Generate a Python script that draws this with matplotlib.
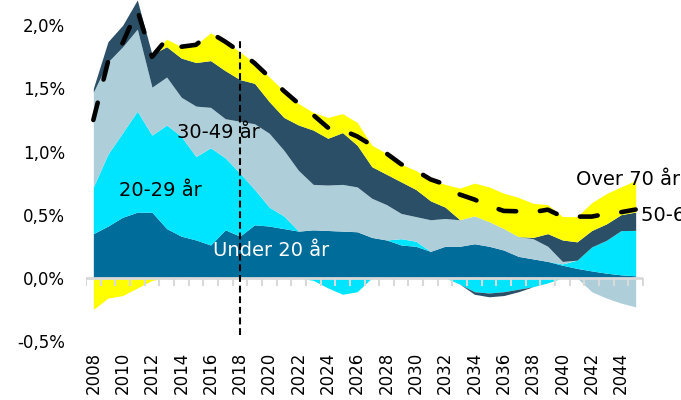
import numpy as np
import matplotlib
matplotlib.use("Agg")
import matplotlib.pyplot as plt

# contribution to growth (percentage points), 2008-2045
years = np.arange(2008, 2046)
under20 = [0.35, 0.41, 0.48, 0.52, 0.52, 0.39, 0.33, 0.30, 0.26, 0.38,
           0.33, 0.42, 0.41, 0.39, 0.37, 0.38, 0.375, 0.37, 0.365, 0.32,
           0.30, 0.26, 0.25, 0.21, 0.25, 0.25, 0.27, 0.25, 0.22, 0.17,
           0.15, 0.13, 0.10, 0.075, 0.055, 0.037, 0.024, 0.016]
age20_29 = [0.37, 0.57, 0.67, 0.80, 0.61, 0.82, 0.79, 0.66, 0.77, 0.57,
            0.50, 0.28, 0.15, 0.10, 0.0, -0.02, -0.08, -0.13, -0.11, 0.0,
            0.0, 0.05, 0.04, 0.0, 0.0, -0.05, -0.11, -0.12, -0.11, -0.09,
            -0.07, -0.04, 0.01, 0.065, 0.19, 0.26, 0.35, 0.36]
age30_49 = [0.75, 0.73, 0.68, 0.65, 0.38, 0.38, 0.31, 0.40, 0.32, 0.31,
            0.41, 0.52, 0.585, 0.52, 0.48, 0.36, 0.36, 0.37, 0.355, 0.31,
            0.28, 0.20, 0.195, 0.25, 0.22, 0.21, 0.22, 0.195, 0.17, 0.157,
            0.16, 0.12, 0.02, 0.0, -0.11, -0.16, -0.20, -0.23]
age50_69 = [0.03, 0.16, 0.17, 0.23, 0.26, 0.24, 0.31, 0.345, 0.37, 0.38,
            0.33, 0.32, 0.25, 0.26, 0.36, 0.43, 0.37, 0.41, 0.33, 0.25,
            0.24, 0.25, 0.215, 0.15, 0.09, 0.0, -0.02, -0.03, -0.03, -0.02,
            0.01, 0.10, 0.17, 0.145, 0.13, 0.13, 0.126, 0.145]
over70 = [-0.25, -0.16, -0.14, -0.08, -0.02, 0.06, 0.09, 0.14, 0.22, 0.23,
          0.22, 0.16, 0.195, 0.21, 0.17, 0.14, 0.165, 0.15, 0.18, 0.17,
          0.165, 0.14, 0.15, 0.17, 0.18, 0.25, 0.26, 0.275, 0.28, 0.31,
          0.27, 0.23, 0.185, 0.20, 0.22, 0.24, 0.22, 0.25]

series = [under20, age20_29, age30_49, age50_69, over70]
colors = ['#006C9A', '#00E5FF', '#AECFDA', '#2B4F66', '#FFFF00']
forecast_year = 2018

fig = plt.figure(figsize=(6.81, 4.0), dpi=100)
ax = fig.add_axes([86/681, 59/400, 557/681, 341/400])

pos_base = np.zeros(len(years))
neg_base = np.zeros(len(years))
for vals, col in zip(series, colors):
    v = np.array(vals)
    p = np.clip(v, 0, None)
    n = np.clip(v, None, 0)
    ax.fill_between(years, pos_base, pos_base + p, color=col, lw=0, zorder=2)
    ax.fill_between(years, neg_base, neg_base + n, color=col, lw=0, zorder=2)
    pos_base = pos_base + p
    neg_base = neg_base + n

total = np.sum(np.array(series), axis=0)

# zero line with small ticks between the years
ax.axhline(0, color='#D9D9D9', lw=2, zorder=3)
ax.plot(np.arange(2007.5, 2046, 1), np.zeros(39), ls='none', marker=3,
        ms=6, mew=1.5, color='#D9D9D9', zorder=3)

ax.vlines(forecast_year, -0.45, 1.9, colors='black', lw=1.5,
          linestyles=(0, (3.3, 1.8)), zorder=4)

ax.plot(years, total, color='black', lw=3.3, dashes=(3.9, 5.2),
        dash_capstyle='round', solid_capstyle='round', zorder=5)

ax.text(2016.5, 1.15, '30-49 år', fontsize=14, ha='center', va='center', zorder=6)
ax.text(2012.6, 0.69, '20-29 år', fontsize=14, ha='center', va='center', zorder=6)
ax.text(2020.1, 0.22, 'Under 20 år', fontsize=14, color='white', ha='center', va='center', zorder=6)
ax.text(2040.9, 0.775, 'Over 70 år', fontsize=14, ha='left', va='center', zorder=6)
ax.text(2045.35, 0.49, '50-69 år', fontsize=14, ha='left', va='center', zorder=6)

ax.set_xlim(2007.5, 2045.5)
ax.set_ylim(-0.5, 2.2)
ax.set_xticks(np.arange(2008, 2045, 2))
ax.set_xticklabels([str(y) for y in range(2008, 2045, 2)], rotation=90, fontsize=12)
yt = np.arange(-0.5, 2.01, 0.5)
ax.set_yticks(yt)
ax.set_yticklabels([('%.1f%%' % t).replace('.', ',') for t in yt], fontsize=12)
ax.tick_params(axis='x', length=0, pad=8)
ax.tick_params(axis='y', length=0, pad=15)
for s in ax.spines.values():
    s.set_visible(False)

plt.savefig('out.png', dpi=100)
